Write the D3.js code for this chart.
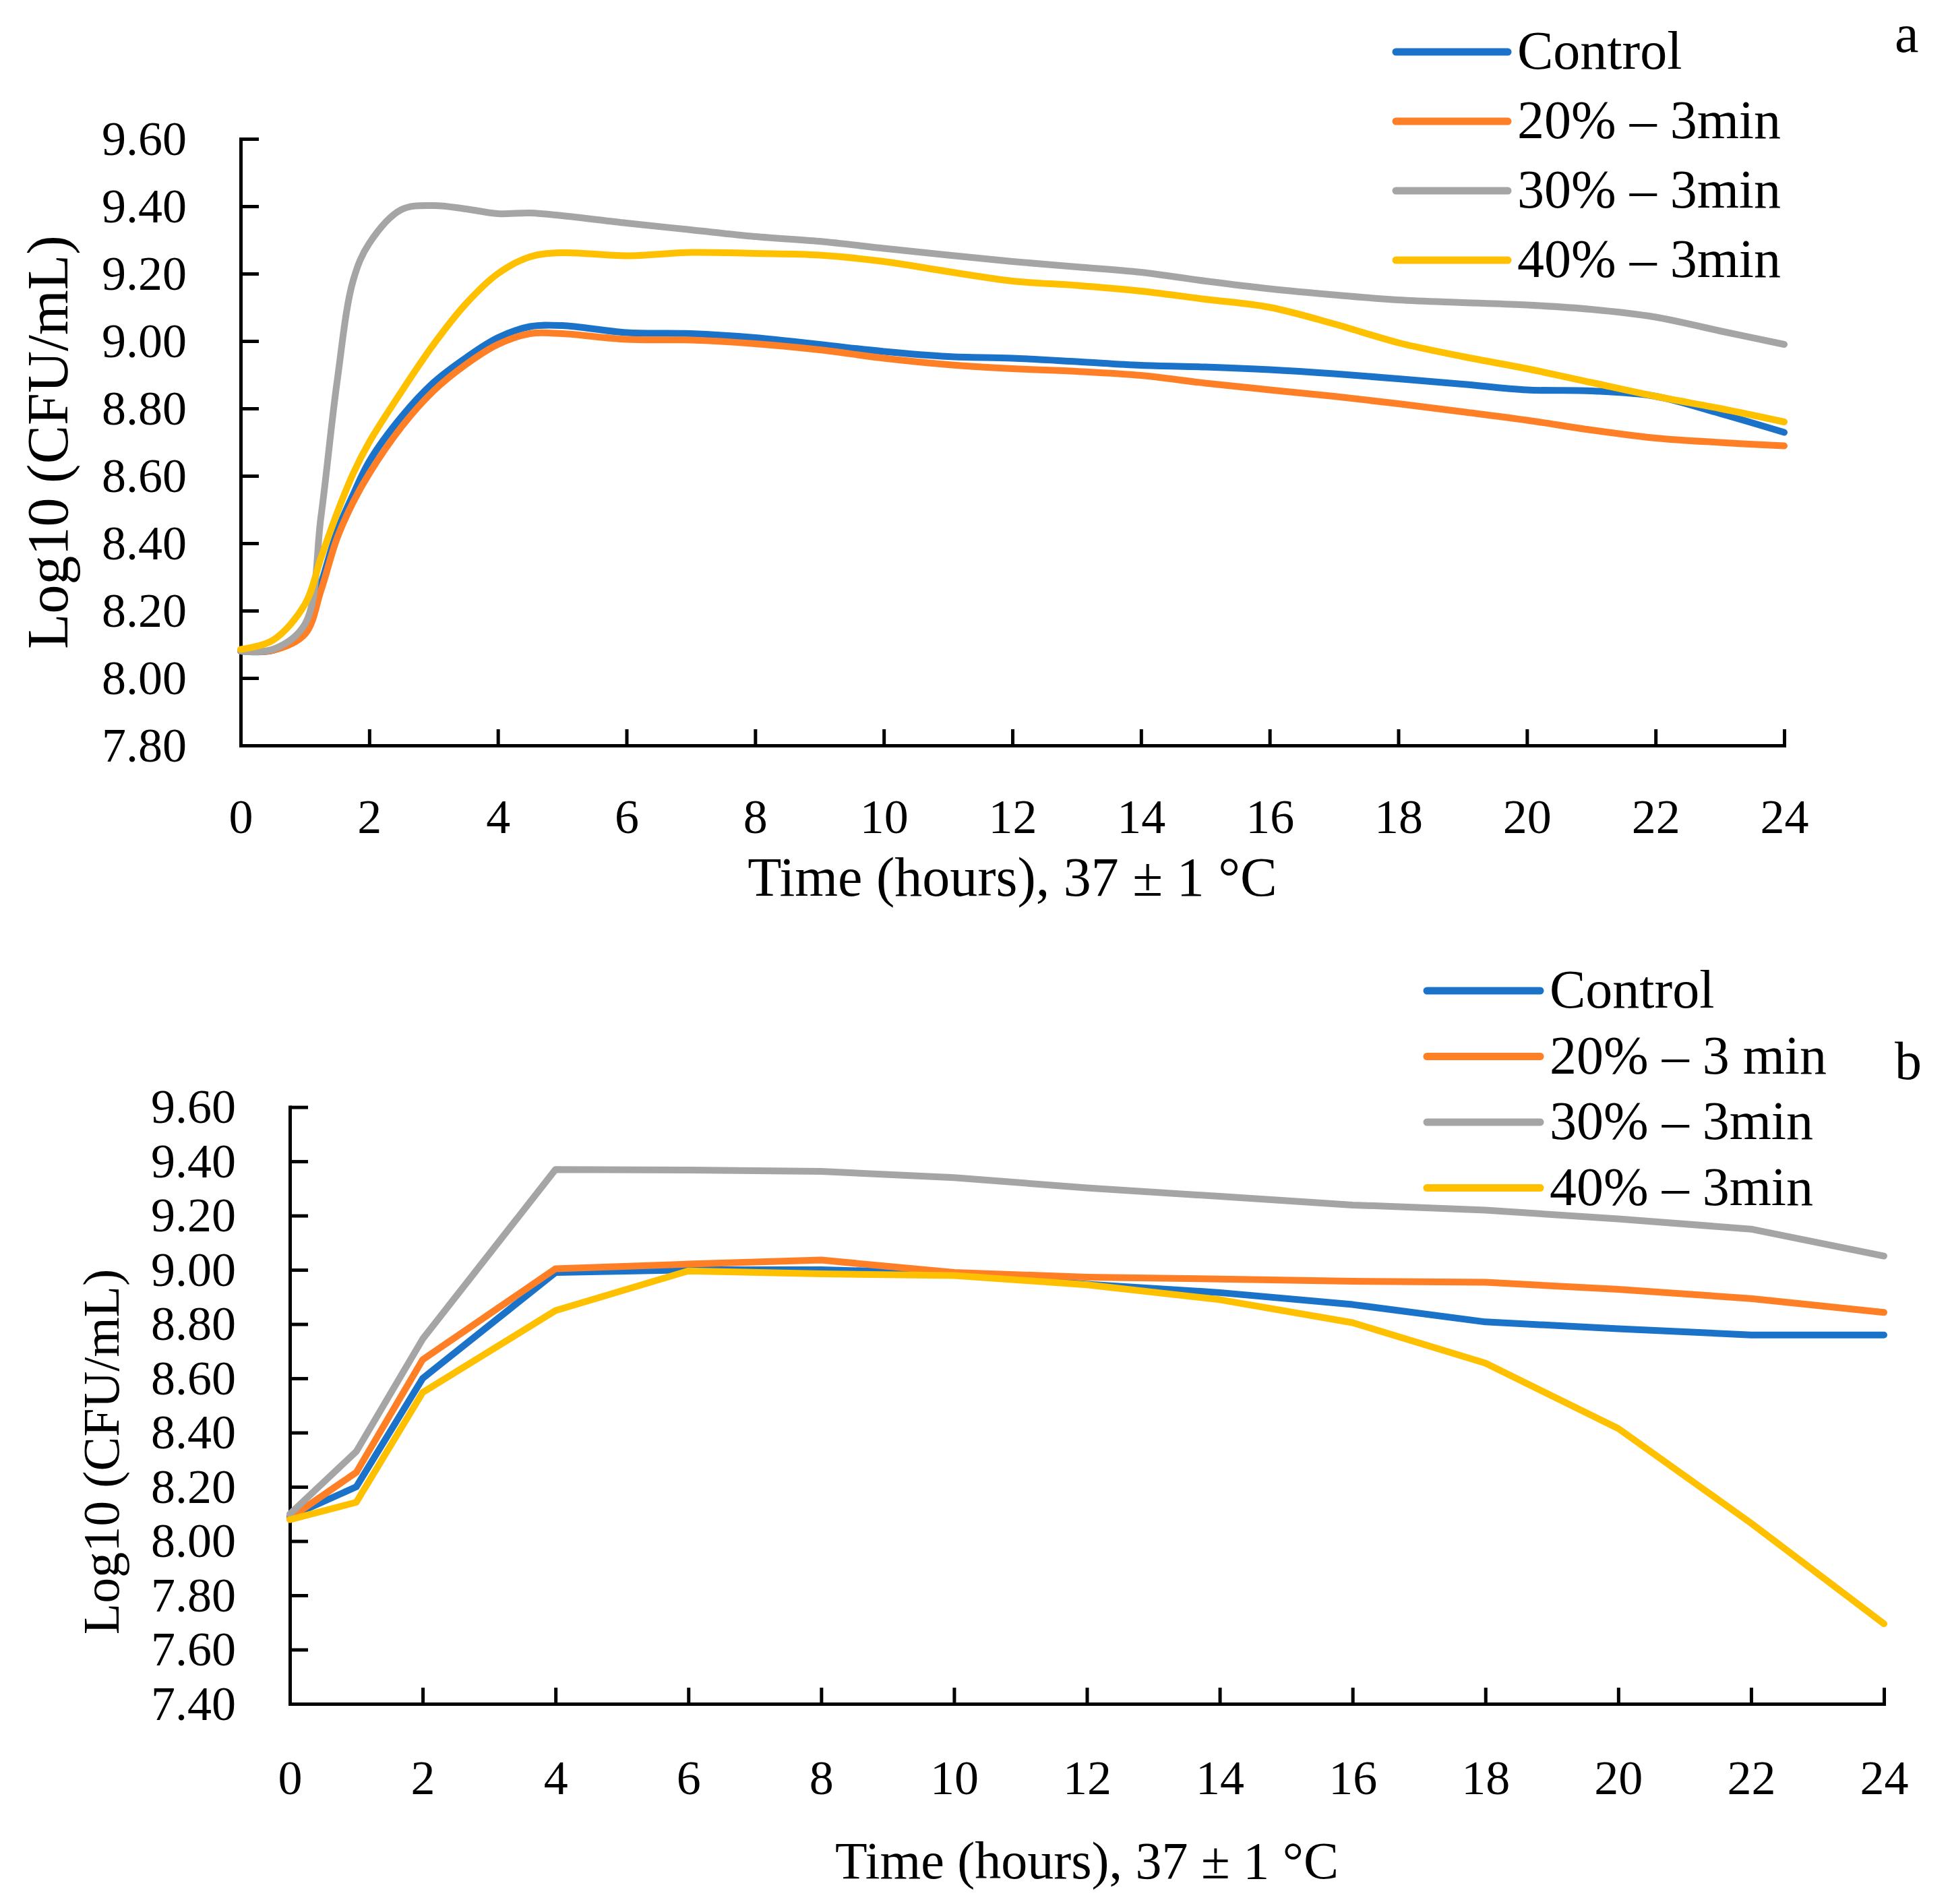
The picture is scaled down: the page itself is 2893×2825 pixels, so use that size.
<!DOCTYPE html>
<html>
<head>
<meta charset="utf-8">
<script src="https://cdn.jsdelivr.net/npm/d3@7"></script>
<style>
  body { margin: 0; background: #fff; }
  text { font-family: "Palatino Linotype", "Book Antiqua", Palatino, "Liberation Serif", serif; fill: #000; }
</style>
</head>
<body>
<div id="chart"></div>
<script>
// Growth curves, panel a (smoothed) and panel b (straight segments)

// Panel a data
const hoursA = [0, 0.5, 1, 1.25, 1.5, 1.75, 2, 2.5, 3, 3.5, 4, 4.5, 5, 6, 7, 8, 9, 10, 11, 12, 13, 14, 15, 16, 17, 18, 19, 20, 21, 22, 23, 24];
const controlA = [8.08, 8.082, 8.14, 8.28, 8.435, 8.545, 8.643, 8.775, 8.877, 8.95, 9.01, 9.043, 9.046, 9.025, 9.022, 9.01, 8.99, 8.969, 8.954, 8.949, 8.939, 8.928, 8.923, 8.915, 8.903, 8.888, 8.872, 8.855, 8.852, 8.836, 8.785, 8.729];
const pct20A = [8.08, 8.082, 8.13, 8.26, 8.415, 8.522, 8.607, 8.745, 8.852, 8.93, 8.99, 9.022, 9.022, 9.005, 9.003, 8.992, 8.974, 8.949, 8.93, 8.918, 8.91, 8.898, 8.875, 8.855, 8.836, 8.814, 8.79, 8.765, 8.736, 8.712, 8.699, 8.689];
const pct30A = [8.08, 8.085, 8.16, 8.48, 8.88, 9.18, 9.29, 9.39, 9.402, 9.392, 9.378, 9.38, 9.372, 9.35, 9.33, 9.31, 9.296, 9.275, 9.255, 9.236, 9.22, 9.204, 9.178, 9.155, 9.137, 9.122, 9.114, 9.107, 9.094, 9.071, 9.03, 8.99];
const pct40A = [8.085, 8.112, 8.219, 8.357, 8.49, 8.607, 8.70, 8.85, 8.99, 9.11, 9.20, 9.25, 9.262, 9.253, 9.263, 9.26, 9.255, 9.236, 9.206, 9.178, 9.165, 9.148, 9.124, 9.10, 9.051, 8.995, 8.954, 8.918, 8.877, 8.836, 8.80, 8.76];
const labelsA = ["Control", "20% \u2013 3min", "30% \u2013 3min", "40% \u2013 3min"];

// Panel b data
const hoursB = [0, 1, 2, 4, 6, 8, 10, 12, 14, 16, 18, 20, 22, 24];
const controlB = [8.09, 8.20, 8.60, 8.99, 9.00, 9.00, 8.988, 8.947, 8.916, 8.872, 8.808, 8.783, 8.76, 8.76];
const pct20B = [8.085, 8.253, 8.669, 9.004, 9.021, 9.036, 8.99, 8.973, 8.966, 8.958, 8.954, 8.928, 8.894, 8.843];
const pct30B = [8.10, 8.33, 8.745, 9.37, 9.368, 9.363, 9.34, 9.302, 9.271, 9.239, 9.22, 9.188, 9.15, 9.051];
const pct40B = [8.079, 8.143, 8.548, 8.85, 8.996, 8.985, 8.979, 8.945, 8.89, 8.805, 8.656, 8.415, 8.066, 7.695];
const labelsB = ["Control", "20% \u2013 3 min", "30% \u2013 3min", "40% \u2013 3min"];

const colors = ["#1a73c8", "#ff7f27", "#a5a5a5", "#ffc000"];
const xTicks = d3.range(0, 25, 2);

const svg = d3.select("#chart")
  .append("svg")
    .attr("width", 2893)
    .attr("height", 2825);

svg.append("rect").attr("width", 2893).attr("height", 2825).attr("fill", "#fff");

// draw one panel
function drawPanel(p) {
  const x = d3.scaleLinear().domain([0, 24]).range(p.xRange);
  const y = d3.scaleLinear().domain(p.yDomain).range(p.yRange);
  const g = svg.append("g");

  // x axis, ticks point up into the plot
  const xAxis = g.append("g")
    .attr("transform", `translate(0,${p.yRange[0]})`)
    .call(d3.axisBottom(x).tickValues(xTicks).tickSizeInner(-24).tickSizeOuter(0).tickPadding(p.xPad).tickFormat(d3.format("d")));

  // y axis, ticks point right into the plot
  const yAxis = g.append("g")
    .attr("transform", `translate(${p.xRange[0]},0)`)
    .call(d3.axisLeft(y).tickValues(p.yTicks).tickSizeInner(-27).tickSizeOuter(0).tickPadding(80).tickFormat(d3.format(".2f")));

  [xAxis, yAxis].forEach(a => {
    a.attr("font-family", null);
    a.selectAll(".domain").attr("stroke", "#000").attr("stroke-width", 5).attr("stroke-linecap", "square");
    a.selectAll(".tick line").attr("stroke", "#000").attr("stroke-width", 5);
    a.selectAll("text").attr("font-size", "72px").attr("fill", "#000");
  });

  // axis titles
  g.append("text")
    .attr("text-anchor", "middle")
    .attr("x", (p.xRange[0] + p.xRange[1]) / 2)
    .attr("y", p.xTitleY)
    .attr("font-size", p.xTitleSize + "px")
    .text("Time (hours), 37 \u00b1 1 \u00b0C");

  g.append("text")
    .attr("text-anchor", "middle")
    .attr("transform", `translate(${p.yTitleX},${p.yTitleMid}) rotate(-90)`)
    .attr("font-size", p.yTitleSize + "px")
    .text("Log10 (CFU/mL)");

  // series lines
  const line = d3.line()
    .x(d => x(d.t))
    .y(d => y(d.v))
    .curve(p.curve);

  p.series.forEach((vals, i) => {
    const pts = p.hours.map((t, k) => ({t: t, v: vals[k]}));
    g.append("path")
      .datum(pts)
      .attr("fill", "none")
      .attr("stroke", colors[i])
      .attr("stroke-width", 10)
      .attr("stroke-linecap", "round")
      .attr("stroke-linejoin", "round")
      .attr("d", line);
  });

  // legend
  const leg = g.append("g");
  p.labels.forEach((lab, i) => {
    const ly = p.legY0 + i * p.legStep;
    leg.append("line")
      .attr("x1", p.legX0).attr("x2", p.legX1)
      .attr("y1", ly).attr("y2", ly)
      .attr("stroke", colors[i])
      .attr("stroke-width", 11)
      .attr("stroke-linecap", "round");
    leg.append("text")
      .attr("x", p.legX1 + 14)
      .attr("y", ly + 25)
      .attr("font-size", "80px")
      .text(lab);
  });

  // panel letter
  g.append("text")
    .attr("x", 2811)
    .attr("y", p.letterY)
    .attr("font-size", "80px")
    .text(p.letter);
}

drawPanel({
  xRange: [357, 2647], yDomain: [7.8, 9.6], yRange: [1106, 206],
  yTicks: d3.range(7.8, 9.61, 0.2),
  hours: hoursA, series: [controlA, pct20A, pct30A, pct40A], labels: labelsA,
  curve: d3.curveCatmullRom.alpha(0.5),
  xPad: 79,
  xTitleY: 1329, xTitleSize: 82,
  yTitleX: 100, yTitleMid: 656, yTitleSize: 86,
  legX0: 2071, legX1: 2237, legY0: 77, legStep: 103,
  letter: "a", letterY: 77
});

drawPanel({
  xRange: [430, 2795], yDomain: [7.4, 9.6], yRange: [2528, 1642.6],
  yTicks: d3.range(7.4, 9.61, 0.2),
  hours: hoursB, series: [controlB, pct20B, pct30B, pct40B], labels: labelsB,
  curve: d3.curveLinear,
  xPad: 83,
  xTitleY: 2787, xTitleSize: 78,
  yTitleX: 176, yTitleMid: 2154, yTitleSize: 76,
  legX0: 2117, legX1: 2285, legY0: 1470, legStep: 97.5,
  letter: "b", letterY: 1601
});
</script>
</body>
</html>
